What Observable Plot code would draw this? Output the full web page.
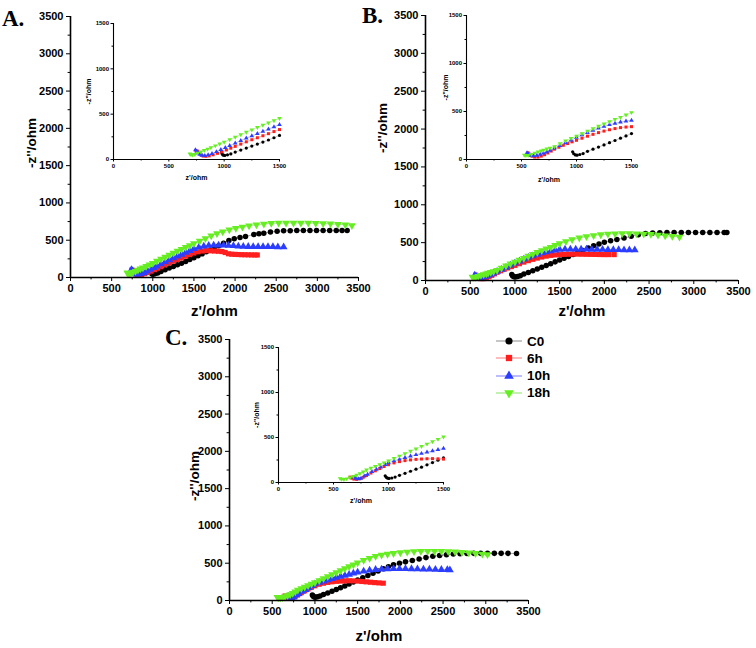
<!DOCTYPE html>
<html><head><meta charset="utf-8">
<script src="https://cdn.jsdelivr.net/npm/d3@7"></script>
<script src="https://cdn.jsdelivr.net/npm/@observablehq/plot@0.6"></script>
<style>
body{margin:0;background:#fff;}
#fig{position:relative;width:756px;height:648px;overflow:hidden;background:#fff;font-family:"Liberation Sans",Arial,sans-serif;}
#fig svg text{font-weight:bold !important;font-family:"Liberation Sans",Arial,sans-serif;}
.plab{position:absolute;font-family:"Liberation Serif","Times New Roman",serif;font-weight:bold;font-size:23px;line-height:1;color:#000;}
.leg{position:absolute;left:495px;display:flex;align-items:center;height:16px;font-weight:bold;font-size:13.5px;color:#000;}
.leg svg{display:block;margin-right:4px;}
</style></head><body><div id="fig"></div>
<script>
// ---------- data ----------
const seriesNames = ["C0", "6h", "10h", "18h"];
const markerColors = ["#000000", "#ff1f1f", "#2b3dff", "#66ee22"];
const lineColors = ["#a0a0a0", "#ff8f8f", "#8f8fff", "#9be87c"];
const axisTicks = [0, 500, 1000, 1500, 2000, 2500, 3000, 3500];
const axisMinorTicks = [250, 750, 1250, 1750, 2250, 2750, 3250];
const insetTicks = [0, 500, 1000, 1500];
const insetMinorTicks = [250, 750, 1250];
const panelLetters = ["A.", "B.", "C."];
const xTitle = "z'/ohm";
const yTitle = "-z''/ohm";

// Panel A
const A_C0 = [[975,80],[982,60],[992,48],[1005,45],[1030,52],[1060,62],[1100,82],[1150,104],[1200,126],[1250,148],[1300,170],[1350,192],[1400,215],[1450,240],[1500,266],[1550,292],[1600,318],[1650,344],[1700,370],[1750,398],[1800,425],[1860,460],[1925,496],[1990,520],[2060,537],[2127,550],[2228,577],[2290,588],[2349,594],[2430,610],[2511,621],[2590,626],[2670,628],[2750,630],[2830,630],[2910,630],[2990,630],[3070,630],[3150,630],[3230,630],[3300,630],[3362,630]];
const A_6h = [[745,100],[760,92],[775,70],[790,50],[810,38],[835,35],[865,40],[900,52],[940,68],[980,85],[1020,105],[1060,125],[1100,145],[1150,170],[1200,195],[1250,218],[1300,240],[1350,262],[1400,285],[1450,308],[1500,330],[1550,345],[1600,355],[1650,360],[1700,358],[1750,355],[1800,352],[1840,348],[1880,335],[1920,318],[1960,312],[2000,310],[2040,308],[2080,306],[2120,305],[2160,304],[2200,303],[2240,302],[2270,302]];
const A_10h = [[740,105],[752,90],[765,70],[780,55],[800,45],[825,42],[855,50],[890,65],[930,85],[970,108],[1010,130],[1050,152],[1100,180],[1150,208],[1200,235],[1250,260],[1300,285],[1350,310],[1400,335],[1450,360],[1500,385],[1560,405],[1620,420],[1680,428],[1740,432],[1800,434],[1860,432],[1920,428],[1980,425],[2040,420],[2100,416],[2160,414],[2220,413],[2280,412],[2340,412],[2400,412],[2460,412],[2520,410],[2590,408]];
const A_18h = [[690,62],[700,55],[715,52],[735,58],[760,70],[790,85],[820,100],[850,116],[880,132],[920,152],[960,172],[1000,192],[1050,220],[1100,248],[1150,275],[1200,302],[1250,328],[1300,355],[1350,380],[1400,405],[1450,430],[1500,455],[1570,490],[1640,522],[1710,560],[1780,590],[1850,615],[1930,640],[2010,660],[2090,678],[2170,695],[2260,708],[2350,718],[2440,726],[2530,730],[2620,732],[2710,732],[2800,731],[2890,730],[2980,728],[3070,725],[3160,720],[3250,714],[3340,706],[3420,698]];

// Panel B
const B_C0 = [[965,80],[975,60],[990,48],[1005,45],[1030,52],[1060,62],[1100,85],[1150,107],[1200,130],[1250,152],[1300,175],[1350,198],[1400,222],[1450,246],[1500,270],[1550,294],[1600,318],[1650,342],[1700,365],[1760,395],[1820,428],[1880,458],[1940,483],[2000,505],[2070,525],[2140,542],[2220,560],[2300,585],[2380,605],[2460,620],[2540,628],[2620,632],[2700,634],[2780,635],[2860,635],[2940,635],[3020,635],[3100,635],[3180,635],[3260,635],[3340,635],[3370,635]];
const B_6h = [[560,70],[575,55],[595,35],[620,25],[650,25],[680,35],[710,50],[740,68],[770,88],[800,108],[840,128],[880,148],[920,166],[960,184],[1000,200],[1050,222],[1100,243],[1150,262],[1200,280],[1250,296],[1300,310],[1350,322],[1400,332],[1450,338],[1500,342],[1550,345],[1600,347],[1650,348],[1700,348],[1750,347],[1800,346],[1850,345],[1900,344],[1950,343],[2000,342],[2050,342],[2110,342]];
const B_10h = [[550,70],[565,55],[585,42],[610,38],[640,42],[670,52],[700,65],[730,80],[760,95],[800,118],[850,145],[900,172],[950,200],[1000,229],[1050,255],[1100,280],[1150,303],[1200,325],[1250,345],[1300,362],[1350,377],[1400,390],[1450,400],[1500,408],[1560,412],[1620,414],[1680,414],[1740,413],[1800,412],[1860,410],[1920,409],[1980,408],[2040,407],[2100,406],[2160,405],[2220,404],[2280,403],[2340,402]];
const B_18h = [[525,45],[540,42],[560,44],[590,55],[620,68],[650,80],[680,90],[700,98],[730,110],[760,120],[800,135],[850,165],[900,195],[950,220],[1000,245],[1050,270],[1100,295],[1150,322],[1200,348],[1250,372],[1300,395],[1350,418],[1400,440],[1450,465],[1500,490],[1570,515],[1640,540],[1720,563],[1800,580],[1880,595],[1960,606],[2040,614],[2120,618],[2200,620],[2280,620],[2360,618],[2440,615],[2520,610],[2600,600],[2680,592],[2760,584],[2840,575]];

// Panel C
const C_C0 = [[970,75],[980,58],[992,48],[1005,45],[1030,50],[1060,60],[1100,80],[1150,102],[1200,125],[1250,148],[1300,170],[1350,196],[1400,222],[1450,248],[1500,275],[1560,305],[1620,335],[1680,365],[1740,395],[1800,425],[1860,452],[1920,478],[1990,500],[2060,518],[2140,535],[2220,555],[2300,575],[2380,592],[2460,605],[2540,615],[2620,622],[2700,628],[2780,630],[2860,632],[2940,632],[3020,632],[3100,632],[3180,632],[3260,632],[3360,630]];
const C_6h = [[650,60],[665,48],[685,38],[710,35],[740,42],[770,58],[800,78],[840,105],[880,130],[920,155],[960,178],[1000,198],[1050,218],[1100,232],[1150,243],[1200,251],[1250,257],[1300,261],[1350,264],[1400,265],[1450,263],[1500,260],[1550,255],[1600,250],[1650,245],[1700,240],[1750,236],[1800,232]];
const C_10h = [[690,55],[705,45],[725,40],[750,45],[780,70],[810,90],[850,120],[890,145],[930,170],[970,198],[1000,220],[1050,240],[1100,258],[1150,276],[1200,292],[1250,308],[1300,322],[1350,336],[1400,350],[1450,364],[1500,378],[1570,393],[1640,405],[1710,414],[1780,420],[1850,424],[1920,426],[1990,427],[2060,426],[2130,424],[2200,422],[2270,420],[2340,418],[2410,416],[2480,414],[2550,412],[2580,410]];
const C_18h = [[560,45],[575,38],[595,36],[620,42],[650,55],[680,68],[710,82],[740,98],[770,118],[800,141],[840,160],[880,180],[920,200],[960,220],[1000,241],[1050,268],[1100,295],[1150,322],[1200,348],[1250,375],[1300,402],[1350,428],[1400,455],[1450,481],[1500,507],[1570,540],[1640,568],[1710,592],[1780,610],[1850,622],[1920,632],[2000,642],[2080,650],[2160,656],[2240,660],[2320,661],[2400,661],[2480,660],[2560,658],[2640,654],[2720,648],[2800,640],[2880,632],[2960,624],[3020,618]];

const panelA = [A_C0, A_6h, A_10h, A_18h];
const panelB = [B_C0, B_6h, B_10h, B_18h];
const panelC = [C_C0, C_6h, C_10h, C_18h];

// ---------- symbols ----------
const triangleDown = {
  draw(context, size) {
    const y = -Math.sqrt(size / (Math.sqrt(3) * 3));
    context.moveTo(0, -y * 2);
    context.lineTo(-Math.sqrt(3) * y, y);
    context.lineTo(Math.sqrt(3) * y, y);
    context.closePath();
  }
};
const plotSymbols = ["circle", "square", "triangle", triangleDown];
const d3Symbols = [d3.symbolCircle, d3.symbolSquare, d3.symbolTriangle, triangleDown];

const fig = document.getElementById("fig");
const FONT = "'Liberation Sans', Arial, Helvetica, sans-serif";

function buildPlot(sets, L) {
  const marks = [];
  sets.forEach((raw, i) => {
    const data = L.inset ? raw.filter(d => d[0] <= L.max + 5) : raw;
    marks.push(Plot.line(data, {x: d => d[0], y: d => d[1], stroke: lineColors[i], strokeWidth: L.lw}));
    marks.push(Plot.dot(data, {x: d => d[0], y: d => d[1], symbol: plotSymbols[i], fill: markerColors[i], stroke: "none", r: i === 0 ? L.r * 0.95 : L.r}));
  });
  marks.push(
    Plot.axisX({ticks: L.ticks, tickSize: L.tick, tickPadding: L.pad, tickFormat: d => String(d), fontSize: L.tf, fontWeight: "bold", label: null}),
    Plot.axisX({ticks: L.minor, tickSize: L.tick * 0.6, tickFormat: () => "", label: null}),
    Plot.axisY({ticks: L.ticks, tickSize: L.tick, tickPadding: L.pad, tickFormat: d => String(d), fontSize: L.tf, fontWeight: "bold", label: null}),
    Plot.axisY({ticks: L.minor, tickSize: L.tick * 0.6, tickFormat: () => "", label: null}),
    Plot.ruleX([0], {strokeWidth: L.aw}),
    Plot.ruleY([0], {strokeWidth: L.aw}),
    Plot.text([xTitle], {frameAnchor: "bottom", textAnchor: "middle", lineAnchor: "middle", dy: L.xtDy, text: d => d, fontSize: L.xtf, fontWeight: "bold"}),
    Plot.text([yTitle], {frameAnchor: "left", textAnchor: "middle", lineAnchor: "middle", rotate: -90, dx: L.ytDx, dy: L.ytDy, text: d => d, fontSize: L.ytf, fontWeight: "bold"})
  );
  const svg = Plot.plot({
    width: L.w, height: L.h,
    marginLeft: L.ml, marginRight: L.mr, marginTop: L.mt, marginBottom: L.mb,
    x: {domain: [0, L.max]}, y: {domain: [0, L.max]},
    style: {background: "transparent", color: "#000", fontFamily: FONT, fontWeight: "bold", overflow: "visible"},
    marks
  });
  svg.style.position = "absolute";
  svg.style.left = L.left + "px";
  svg.style.top = L.top + "px";
  fig.appendChild(svg);
}

const mainBase = {max: 3500, ticks: axisTicks, minor: axisMinorTicks, tick: 4, pad: 3, tf: 11, xtf: 15, ytf: 13.5, r: 2.9, lw: 0.9, aw: 1.6, inset: false};
const insetBase = {max: 1500, ticks: insetTicks, minor: insetMinorTicks, tick: 2.5, pad: 2, tf: 6, xtf: 7, ytf: 7, r: 1.7, lw: 0.6, aw: 1.1, inset: true};

// Main panels
buildPlot(panelA, {...mainBase, left: 0, top: 0, w: 372, h: 325, ml: 70, mr: 14, mt: 16, mb: 48, xtDy: 34, ytDx: -39, ytDy: -4});
buildPlot(panelB, {...mainBase, left: 372, top: 0, w: 384, h: 325, ml: 53, mr: 18, mt: 15, mb: 45, xtDy: 31, ytDx: -43, ytDy: -20});
buildPlot(panelC, {...mainBase, left: 170, top: 326, w: 380, h: 322, ml: 59, mr: 22, mt: 13, mb: 48, xtDy: 36, ytDx: -35, ytDy: 6});
// Insets
buildPlot(panelA, {...insetBase, left: 80, top: 10, w: 215, h: 180, ml: 33, mr: 16, mt: 13, mb: 31, xtDy: 18, ytDx: -24.5, ytDy: 0});
buildPlot(panelB, {...insetBase, left: 435, top: 3, w: 215, h: 185, ml: 31, mr: 19, mt: 12, mb: 29, xtDy: 20, ytDx: -21, ytDy: 0});
buildPlot(panelC, {...insetBase, left: 245, top: 335, w: 215, h: 175, ml: 33, mr: 17, mt: 12, mb: 28, xtDy: 18, ytDx: -22, ytDy: 0});

// Panel letters
const letterPos = [[2, 7], [362, 4], [165, 326]];
panelLetters.forEach((t, i) => {
  const d = document.createElement("div");
  d.className = "plab";
  d.textContent = t;
  d.style.left = letterPos[i][0] + "px";
  d.style.top = letterPos[i][1] + "px";
  fig.appendChild(d);
});

// Legend
seriesNames.forEach((name, i) => {
  const row = document.createElement("div");
  row.className = "leg";
  row.style.top = (333 + i * 17.3) + "px";
  const s = d3.create("svg").attr("width", 28).attr("height", 14);
  s.append("line").attr("x1", 1).attr("x2", 27).attr("y1", 7).attr("y2", 7).attr("stroke", lineColors[i]).attr("stroke-width", 1.2);
  s.append("path").attr("transform", "translate(14,7)").attr("d", d3.symbol(d3Symbols[i], 40)()).attr("fill", markerColors[i]);
  row.appendChild(s.node());
  const t = document.createElement("span");
  t.textContent = name;
  row.appendChild(t);
  fig.appendChild(row);
});
</script></body></html>
